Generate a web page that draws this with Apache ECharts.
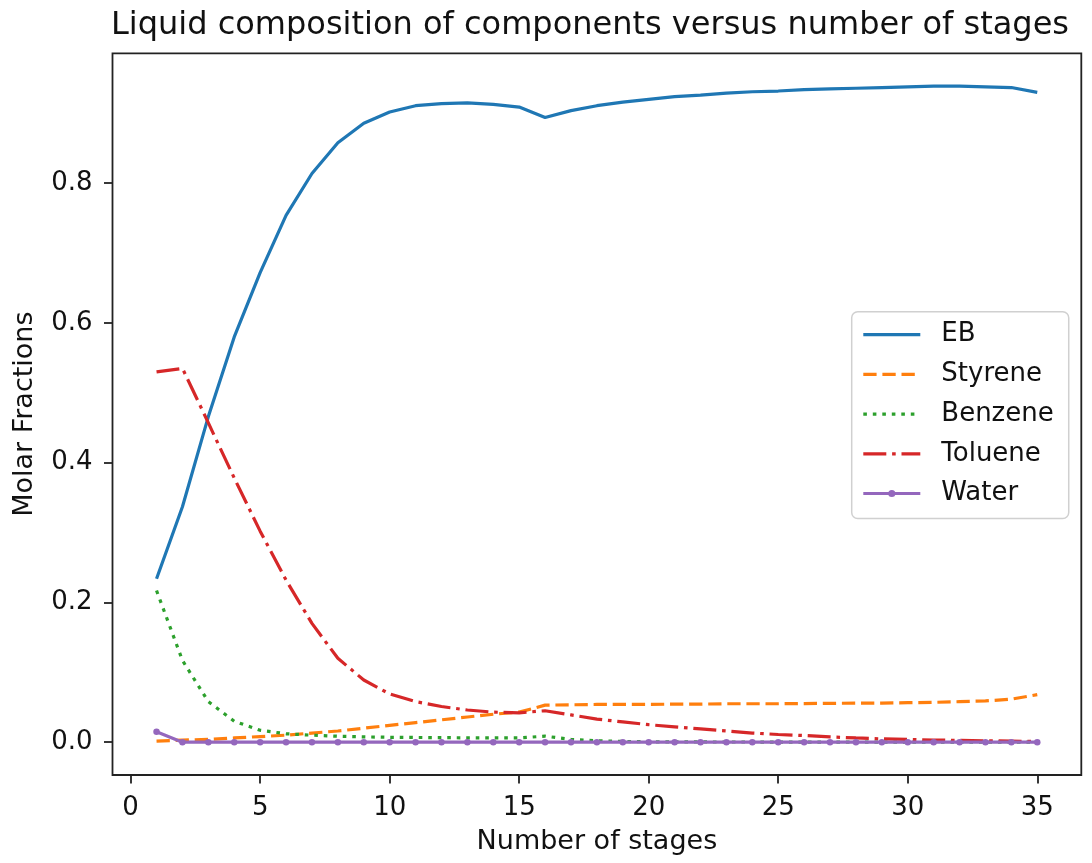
<!DOCTYPE html>
<html>
<head>
<meta charset="utf-8">
<script src="https://cdn.jsdelivr.net/npm/echarts@6/dist/echarts.min.js"></script>
<style>
html,body{margin:0;padding:0;background:#fff;}
#chart{width:1092px;height:863px;}
</style>
</head>
<body>
<div id="chart"></div>
<script>
const stages = [1,2,3,4,5,6,7,8,9,10,11,12,13,14,15,16,17,18,19,20,21,22,23,24,25,26,27,28,29,30,31,32,33,34,35];
const eb = [0.234,0.337,0.466,0.580,0.672,0.754,0.814,0.858,0.886,0.902,0.911,0.914,0.915,0.913,0.909,0.894,0.904,0.911,0.916,0.920,0.924,0.926,0.929,0.931,0.932,0.934,0.935,0.936,0.937,0.938,0.939,0.939,0.938,0.937,0.930];
const styrene = [0.0015,0.003,0.004,0.006,0.008,0.010,0.013,0.016,0.020,0.024,0.028,0.032,0.036,0.040,0.043,0.053,0.0535,0.054,0.054,0.054,0.0545,0.0545,0.055,0.055,0.055,0.0553,0.0555,0.056,0.056,0.0565,0.057,0.058,0.059,0.0615,0.068];
const benzene = [0.217,0.117,0.058,0.030,0.017,0.012,0.010,0.0085,0.0076,0.007,0.0067,0.0065,0.0062,0.006,0.006,0.0086,0.004,0.002,0.001,0.0006,0.0004,0.0003,0.0002,0.0002,0.0001,0.0001,0.0001,0.0001,0.0001,0,0,0,0,0,0];
const toluene = [0.530,0.535,0.457,0.378,0.302,0.232,0.170,0.120,0.089,0.069,0.058,0.051,0.046,0.043,0.042,0.045,0.039,0.033,0.029,0.025,0.022,0.019,0.016,0.013,0.011,0.0095,0.0076,0.006,0.0047,0.004,0.003,0.0025,0.002,0.0015,0.001];
const water = [0.0148,0,0,0,0,0,0,0,0,0,0,0,0,0,0,0,0,0,0,0,0,0,0,0,0,0,0,0,0,0,0,0,0,0,0];
const seriesNames = ['EB','Styrene','Benzene','Toluene','Water'];
const xTicks = [0,5,10,15,20,25,30,35];
const yTicks = [0,0.2,0.4,0.6,0.8];
const titleText = 'Liquid composition of components versus number of stages';
const xName = 'Number of stages';
const yName = 'Molar Fractions';

const FONT = 'DejaVu Sans';
const FS = 26;
const LW = 3.2;
const pairs = arr => stages.map((s,i)=>[s,arr[i]]);

const chart = echarts.init(document.getElementById('chart'), null, {renderer:'canvas'});
const mk = (name, data, color, type, extra) => Object.assign({
  name, type:'line', data:pairs(data), symbol:'none', smooth:false,
  lineStyle:{color, width:LW, type, cap:'butt'}, itemStyle:{color},
  emphasis:{disabled:true}, animation:false
}, extra||{});

chart.setOption({
  animation:false,
  backgroundColor:'#fff',
  title:{
    text:titleText, left:585, top:5, textAlign:'center',
    textStyle:{fontFamily:FONT, fontSize:32, fontWeight:'normal', color:'#111'}
  },
  grid:{left:112.5, right:10.7, top:53.3, bottom:88, show:true, borderColor:'#222', borderWidth:1.8, backgroundColor:'transparent', containLabel:false},
  legend:{
    orient:'vertical', left:851.7, top:311.7,
    data:seriesNames.map(n => n === 'Water' ? {name:n} : {name:n, itemStyle:{opacity:0}}),
    itemWidth:57, itemHeight:9, itemGap:11.7,
    padding:[9,15,11,10],
    lineStyle:{width:LW},
    backgroundColor:'rgba(255,255,255,0.8)', borderColor:'#d0d0d0', borderWidth:1.5, borderRadius:6,
    textStyle:{fontFamily:FONT, fontSize:FS, color:'#111', lineHeight:28, padding:[0,0,0,16]},
    selectedMode:false
  },
  xAxis:{
    type:'value', min:-0.7, max:36.7,
    name:xName, nameLocation:'middle', nameGap:53,
    nameTextStyle:{fontFamily:FONT, fontSize:27, color:'#111'},
    axisLine:{show:false, onZero:false},
    axisTick:{show:true, length:8.5, lineStyle:{color:'#222', width:1.8}, customValues:xTicks},
    axisLabel:{fontFamily:FONT, fontSize:FS, color:'#111', margin:20, customValues:xTicks},
    splitLine:{show:false}
  },
  yAxis:{
    type:'value', min:-0.047, max:0.986,
    name:yName, nameLocation:'middle', nameGap:74, nameRotate:90,
    nameTextStyle:{fontFamily:FONT, fontSize:27, color:'#111'},
    axisLine:{show:false, onZero:false},
    axisTick:{show:true, length:8.5, lineStyle:{color:'#222', width:1.8}, customValues:yTicks},
    axisLabel:{fontFamily:FONT, fontSize:FS, color:'#111', margin:20, customValues:yTicks, formatter:v=>v.toFixed(1)},
    splitLine:{show:false}
  },
  series:[
    mk('EB', eb, '#1f77b4', 'solid'),
    mk('Styrene', styrene, '#ff7f0e', [13.3,5.8]),
    mk('Benzene', benzene, '#2ca02c', [3.6,5.9]),
    mk('Toluene', toluene, '#d62728', [23,5.8,3.6,5.8]),
    mk('Water', water, '#9467bd', 'solid', {symbol:'circle', symbolSize:6.5, showSymbol:true})
  ]
});
</script>
</body>
</html>
